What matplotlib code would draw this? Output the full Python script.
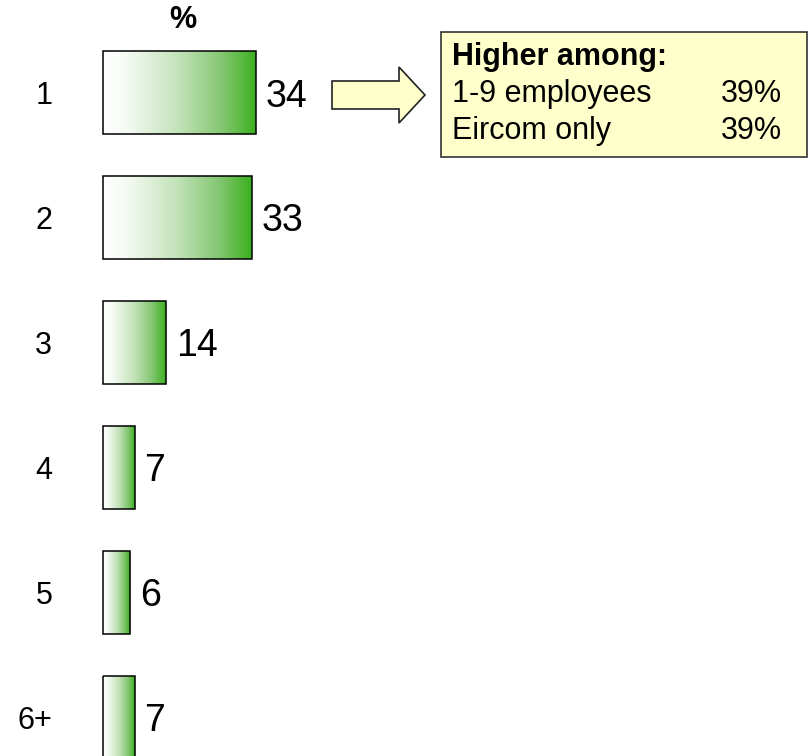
import numpy as np
import matplotlib
matplotlib.use('Agg')
import matplotlib.pyplot as plt
from matplotlib.colors import LinearSegmentedColormap
from matplotlib.patches import Rectangle, Polygon

plt.rcParams['font.family'] = ['Liberation Sans', 'DejaVu Sans']

categories = ['1', '2', '3', '4', '5', '6+']
values = [34, 33, 14, 7, 6, 7]

callout_title = 'Higher among:'
callout_groups = ['1-9 employees', 'Eircom only']
callout_values = ['39%', '39%']

W, H = 808, 756
BAR_LEFT = 103        # px where 0% sits
PX_PER_PCT = 4.5
ROW = 124.9           # px between bar centres
FIRST = 92.5          # px from top to first bar centre

green = LinearSegmentedColormap.from_list(
    'grad', [(0.0, '#ffffff'), (0.15, '#f6fbf4'), (0.5, '#c2e2b8'),
             (0.78, '#84c772'), (1.0, '#3cb01e')])

fig = plt.figure(figsize=(W / 100, H / 100), dpi=100)
ax = fig.add_axes([BAR_LEFT / W, 0, 1 - BAR_LEFT / W, 1])

bar_h = 83 / ROW
grad = np.linspace(0, 1, 256).reshape(1, -1)
for i, v in enumerate(values):
    rect = Rectangle((0, i - bar_h / 2), v, bar_h, facecolor='none',
                     edgecolor='black', linewidth=1.1, zorder=3, clip_on=False)
    ax.add_patch(rect)
    im = ax.imshow(grad, cmap=green, aspect='auto', interpolation='bilinear',
                   extent=(0, v, i + bar_h / 2, i - bar_h / 2), zorder=2)
    im.set_clip_path(rect)
    ax.annotate(str(v), xy=(v, i), xytext=(7, 0), textcoords='offset points',
                ha='left', va='center_baseline', fontsize=27)

ax.set_xlim(0, (W - BAR_LEFT) / PX_PER_PCT)
ax.set_ylim((H - FIRST) / ROW, -FIRST / ROW)
ax.set_yticks(range(len(categories)), categories, fontsize=22)
ax.tick_params(axis='y', length=0, pad=36.5)
ax.set_xticks([])
for s in ax.spines.values():
    s.set_visible(False)
ax.patch.set_alpha(0)

fig.text(183 / W, 1 - 20 / H, '%', ha='center', va='center',
         fontsize=22, fontweight='bold')

def fx(x):
    return x / W

def fy(y):
    return 1 - y / H

# callout arrow and box
arrow_px = [(332, 81), (399, 81), (399, 67), (425, 95), (399, 123), (399, 109), (332, 109)]
fig.add_artist(Polygon([(fx(x), fy(y)) for x, y in arrow_px], closed=True,
                       facecolor='#ffffcc', edgecolor='#222222', linewidth=1.2,
                       transform=fig.transFigure))
fig.add_artist(Rectangle((fx(441), fy(157)), (807 - 441) / W, 125 / H,
                         facecolor='#ffffcc', edgecolor='#333333', linewidth=1.2,
                         transform=fig.transFigure))
fig.text(fx(452), fy(65), callout_title, fontsize=22, fontweight='bold',
         ha='left', va='baseline')
for k, (g, val) in enumerate(zip(callout_groups, callout_values)):
    yb = 102 + 37 * k
    fig.text(fx(452), fy(yb), g, fontsize=22, ha='left', va='baseline')
    fig.text(fx(782), fy(yb), val, fontsize=22, ha='right', va='baseline')

fig.savefig('out.png', dpi=100)
